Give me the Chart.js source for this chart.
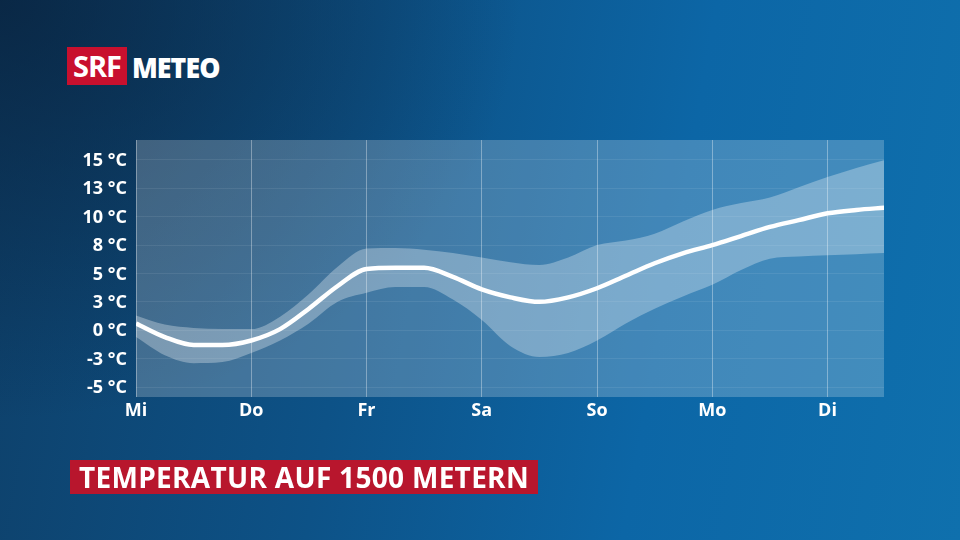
<!DOCTYPE html>
<html lang="de">
<head>
<meta charset="utf-8">
<title>Temperatur auf 1500 Metern</title>
<script src="https://cdn.jsdelivr.net/npm/chart.js@4.4.1/dist/chart.umd.min.js"></script>
<style>
  html, body { margin: 0; padding: 0; }
  body {
    width: 960px; height: 540px; overflow: hidden; position: relative;
    background:
      radial-gradient(ellipse 520px 420px at 0% 0%, rgba(8,32,58,0.75) 0%, rgba(8,32,58,0) 100%),
      linear-gradient(100deg, #0e3f68 0%, #0d5287 38%, #0c66a6 68%, #0f70ad 100%);
    font-family: 'Open Sans', sans-serif;
  }
  #chart { position: absolute; left: 0; top: 0; }
  .logo { position: absolute; left: 67px; top: 47px; height: 38px; display: flex; align-items: center; }
  .logo .srf {
    background: #c8102e; color: #fff; font-weight: 700; font-size: 29px;
    height: 38px; width: 60px; line-height: 38px; text-align: center; letter-spacing: -1px;
  }
  .logo .meteo {
    color: #fff; font-weight: 800; font-size: 29px; margin-left: 5px; letter-spacing: -1px;
    display: inline-block; transform: scaleX(0.92); transform-origin: left center;
  }
  .banner {
    position: absolute; left: 70px; top: 460px; height: 34px; padding: 0 9px;
    background: #b8162d; color: #fff; font-weight: 700; font-size: 28px; line-height: 34px;
    letter-spacing: 0.3px;
  }
</style>
</head>
<body>
<div class="logo"><span class="srf">SRF</span><span class="meteo">METEO</span></div>
<canvas id="chart" width="960" height="540"></canvas>
<div class="banner">TEMPERATUR AUF 1500 METERN</div>
<script>
(() => {
  'use strict';

  // Tage (x = 0 ist Mittwoch, Schritt ein Tag)
  const days = ['Mi', 'Do', 'Fr', 'Sa', 'So', 'Mo', 'Di'];
  const yTicks = [-5, -2.5, 0, 2.5, 5, 7.5, 10, 12.5, 15];

  // Stützstellen alle 6 Stunden
  const hours = [0, 0.25, 0.5, 0.75, 1, 1.25, 1.5, 1.75, 2, 2.25, 2.5, 2.75, 3, 3.25, 3.5,
    3.75, 4, 4.25, 4.5, 4.75, 5, 5.25, 5.5, 5.75, 6, 6.25, 6.5];
  const tempMean = [0.6, -0.6, -1.3, -1.3, -0.9, 0.1, 1.9, 3.9, 5.4, 5.5, 5.5, 4.7, 3.6, 2.9, 2.5,
    2.9, 3.7, 4.8, 5.9, 6.8, 7.5, 8.3, 9.1, 9.7, 10.3, 10.6, 10.8];
  const tempHigh = [1.3, 0.5, 0.2, 0.1, 0.1, 1.2, 3.2, 5.6, 7.2, 7.25, 7.1, 6.8, 6.4, 6.0, 5.75,
    6.4, 7.5, 7.9, 8.5, 9.6, 10.6, 11.2, 11.7, 12.6, 13.5, 14.3, 15.0];
  const tempLow = [-0.6, -2.2, -2.9, -2.8, -2.0, -0.9, 0.6, 2.5, 3.3, 3.8, 3.8, 2.7, 0.9, -1.4, -2.35,
    -2.0, -0.9, 0.6, 1.9, 3.0, 4.0, 5.3, 6.3, 6.5, 6.6, 6.7, 6.8];

  const toPoints = arr => arr.map((v, i) => ({ x: hours[i], y: v }));
  const fmtTemp = v => (v < 0 ? -Math.round(-v) : Math.round(v)) + ' °C';

  const plotBg = {
    id: 'plotBg',
    beforeDraw(chart) {
      const { ctx, chartArea: a } = chart;
      ctx.save();
      ctx.fillStyle = 'rgba(255,255,255,0.22)';
      ctx.fillRect(a.left, a.top, a.right - a.left, a.bottom - a.top);
      ctx.restore();
    }
  };

  const font = { family: "'Open Sans', sans-serif", size: 18, weight: '700' };
  const smooth = { pointRadius: 0, cubicInterpolationMode: 'monotone' };

  new Chart(document.getElementById('chart').getContext('2d'), {
    type: 'line',
    data: {
      datasets: [
        { ...smooth, data: toPoints(tempMean), borderColor: '#ffffff', borderWidth: 4.5, fill: false, order: 0 },
        {
          ...smooth, data: toPoints(tempHigh), borderWidth: 0, borderColor: 'transparent',
          backgroundColor: 'rgba(255,255,255,0.3)', fill: '+1', order: 1
        },
        { ...smooth, data: toPoints(tempLow), borderWidth: 0, borderColor: 'transparent', fill: false, order: 2 }
      ]
    },
    options: {
      responsive: false,
      animation: false,
      layout: { padding: { left: 0, right: 76, top: 140, bottom: 113 } },
      plugins: { legend: { display: false }, tooltip: { enabled: false } },
      scales: {
        x: {
          type: 'linear', min: 0, max: 6.49,
          afterFit: s => { s.height = 30; },
          afterBuildTicks: s => { s.ticks = days.map((d, i) => ({ value: i })); },
          grid: { color: 'rgba(255,255,255,0.35)', lineWidth: 1, drawTicks: false },
          border: { display: false },
          ticks: { color: '#ffffff', font, padding: 3, maxRotation: 0, callback: v => days[v] }
        },
        y: {
          min: -5.88, max: 16.76,
          afterFit: s => { s.width = 136; },
          afterBuildTicks: s => { s.ticks = yTicks.map(v => ({ value: v })); },
          grid: { color: 'rgba(255,255,255,0.08)', lineWidth: 1, drawTicks: false },
          border: { display: false },
          ticks: { color: '#ffffff', font, padding: 9, labelOffset: 1, callback: fmtTemp }
        }
      }
    },
    plugins: [plotBg]
  });
})();
</script>
</body>
</html>
